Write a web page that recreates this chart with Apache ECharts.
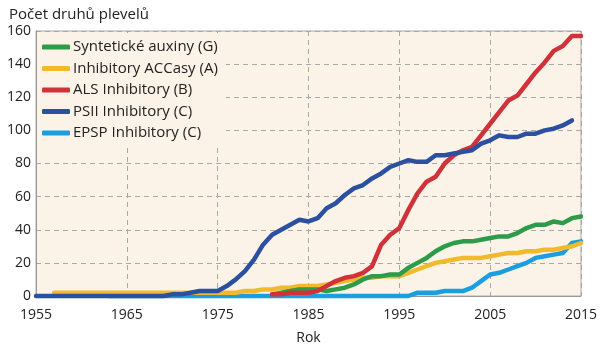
<!DOCTYPE html>
<html><head><meta charset="utf-8">
<script src="https://cdn.jsdelivr.net/npm/echarts@6/dist/echarts.min.js"></script>
<style>html,body{margin:0;padding:0;background:#fff}#c{width:600px;height:350px}</style>
</head><body><div id="c"></div>
<script>
var years = [1955,1956,1957,1958,1959,1960,1961,1962,1963,1964,1965,1966,1967,1968,1969,1970,1971,1972,1973,1974,1975,1976,1977,1978,1979,1980,1981,1982,1983,1984,1985,1986,1987,1988,1989,1990,1991,1992,1993,1994,1995,1996,1997,1998,1999,2000,2001,2002,2003,2004,2005,2006,2007,2008,2009,2010,2011,2012,2013,2014,2015];
var seriesNames = ['Syntetické auxiny (G)','Inhibitory ACCasy (A)','ALS Inhibitory (B)','PSII Inhibitory (C)','EPSP Inhibitory (C)'];
var auxiny = [null,null,null,null,null,null,null,null,null,null,null,null,null,null,null,null,null,null,null,null,null,null,null,null,null,null,
  1,2,3,4,4,4,3,4,5,7,10,12,12,13,13,17,20,23,27,30,32,33,33,34,35,36,36,38,41,43,43,45,44,47,48];
var accasy = [null,null,2,2,2,2,2,2,2,2,2,2,2,2,2,2,2,2,2,2,2,2,2,
  3,3,4,4,5,5,6,6,6,7,8,9,10,11,11,12,12,12,14,16,18,20,21,22,23,23,23,24,25,26,26,27,27,28,28,29,30,32];
var als = [null,null,null,null,null,null,null,null,null,null,null,null,null,null,null,null,null,null,null,null,null,null,null,null,null,null,
  1,1,2,2,2,3,6,9,11,12,14,18,31,37,41,52,62,69,72,80,85,88,90,97,104,111,118,121,128,135,141,148,151,157,157];
var psii = [0,0,0,0,0,0,0,0,0,0,0,0,0,0,0,
  1,1,2,3,3,3,6,10,15,22,31,37,40,43,46,45,47,53,56,61,65,67,71,74,78,80,82,81,81,85,85,86,87,88,92,94,97,96,96,98,98,100,101,103,106,null];
var epsp = [null,null,null,null,null,null,null,null,
  0,0,0,0,0,0,0,0,0,0,0,0,0,0,0,0,0,0,0,0,0,0,0,0,0,0,0,0,0,0,0,0,0,0,
  2,2,2,3,3,3,5,9,13,14,16,18,20,23,24,25,26,32,33];
var colors = ['#2d9b49','#f0ba2c','#d1323a','#2b50a0','#199fe0'];
var xTicks = {min:1955, max:2015, step:10};
var yTicks = {min:0, max:160, step:20};

function pairs(v){ return years.map(function(y,i){ return [y, v[i]]; }); }
var FONT = '"Open Sans", sans-serif';
function mk(idx, data){
  return {name: seriesNames[idx], type:'line', data: pairs(data), showSymbol:false, symbol:'none',
    clip:false, connectNulls:false,
    lineStyle:{width:4.5, color:colors[idx], cap:'round', join:'round'}, itemStyle:{color:colors[idx]}};
}
var chart = echarts.init(document.getElementById('c'), null, {renderer:'canvas'});
chart.setOption({
  animation:false,
  title:{text:'Počet druhů plevelů', left:4, top:2, textStyle:{fontFamily:FONT, fontSize:15, fontWeight:'normal', color:'#222'}},
  legend:{orient:'vertical', left:37, top:33, data:seriesNames, icon:'roundRect', itemWidth:28, itemHeight:5, itemGap:5.5,
    backgroundColor:'#fbf3e8', padding:[6,8,4,5],
    textStyle:{fontFamily:FONT, fontSize:15, color:'#222', lineHeight:16, padding:[0,0,0,-2]}},
  grid:{left:36, right:16, top:31, bottom:49, show:true, backgroundColor:'#fbf3e8', borderColor:'#aaa', borderWidth:1},
  xAxis:{type:'value', min:xTicks.min, max:xTicks.max, interval:xTicks.step, name:'Rok', nameLocation:'middle', nameGap:35,
    nameTextStyle:{fontFamily:FONT, fontSize:14, color:'#222'},
    axisLine:{show:true, lineStyle:{color:'#999'}}, axisTick:{show:false},
    axisLabel:{fontFamily:FONT, fontSize:14, color:'#222', margin:12, formatter:function(v){return String(v);}},
    splitLine:{show:true, lineStyle:{type:[5,4], color:'#a8a8a8', width:1}}},
  yAxis:{type:'value', min:yTicks.min, max:yTicks.max, interval:yTicks.step,
    axisLine:{show:true, lineStyle:{color:'#999'}}, axisTick:{show:false},
    axisLabel:{fontFamily:FONT, fontSize:14, color:'#222', margin:5},
    splitLine:{show:true, lineStyle:{type:[5,4], color:'#a8a8a8', width:1}}},
  series:[mk(4, epsp), mk(1, accasy), mk(0, auxiny), mk(2, als), mk(3, psii)]
});
</script></body></html>
